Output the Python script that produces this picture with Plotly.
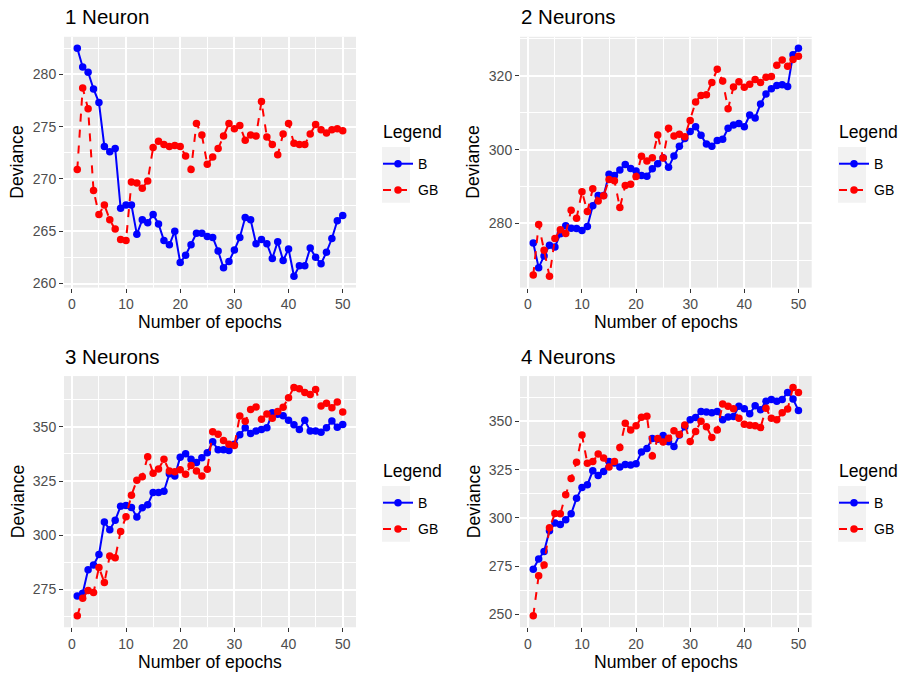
import plotly.graph_objects as go

# Deviance per epoch for the two training schemes (B and GB), one network size per panel
epochs = list(range(1, 51))

n1_b = [282.5, 280.7, 280.2, 278.6, 277.3, 273.1, 272.6, 272.9, 267.2, 267.5,
        267.5, 264.7, 266.1, 265.8, 266.6, 265.7, 264.1, 263.7, 265.0, 262.0,
        262.7, 263.7, 264.8, 264.8, 264.5, 264.4, 263.1, 261.5, 262.1, 263.2,
        264.4, 266.3, 266.1, 263.8, 264.2, 263.8, 262.4, 264.0, 262.2, 263.3,
        260.7, 261.7, 261.7, 263.4, 262.5, 261.9, 263.0, 264.3, 266.0, 266.5]
n1_gb = [270.9, 278.7, 276.7, 268.9, 266.6, 267.5, 266.1, 265.2, 264.2, 264.1,
         269.7, 269.6, 269.1, 269.8, 273.0, 273.6, 273.3, 273.1, 273.2, 273.1,
         272.2, 270.9, 275.3, 274.2, 271.4, 272.1, 272.9, 274.1, 275.3, 274.8,
         275.1, 273.7, 274.2, 274.1, 277.4, 274.0, 273.3, 272.3, 274.3, 275.3,
         273.4, 273.3, 273.3, 274.3, 275.2, 274.7, 274.4, 274.7, 274.8, 274.6]

n2_b = [274.7, 268.0, 271.2, 274.1, 273.6, 277.2, 279.4, 278.7, 278.6, 278.1,
        279.2, 284.8, 287.6, 287.6, 293.3, 293.0, 294.5, 296.0, 294.9, 294.2,
        293.0, 292.8, 294.8, 296.2, 297.8, 295.2, 298.3, 300.9, 303.0, 304.9,
        306.2, 303.9, 301.5, 300.9, 302.5, 302.8, 305.8, 306.7, 307.1, 306.2,
        309.4, 308.6, 312.4, 315.1, 316.5, 317.4, 317.6, 317.1, 325.7, 327.5]
n2_gb = [266.0, 279.7, 272.7, 265.7, 275.9, 278.3, 277.3, 283.6, 281.4, 288.6,
         283.2, 289.4, 286.1, 287.5, 291.9, 291.6, 284.3, 290.3, 290.6, 292.7,
         298.2, 296.9, 297.8, 304.0, 297.7, 305.8, 303.7, 304.2, 303.5, 307.9,
         312.9, 314.7, 314.9, 318.2, 321.8, 318.6, 311.1, 317.0, 318.4, 316.9,
         317.7, 319.0, 318.2, 319.6, 319.8, 322.9, 324.3, 322.6, 324.4, 325.3]

n3_b = [272.0, 273.3, 284.1, 286.3, 291.1, 306.1, 302.6, 306.9, 313.4, 313.7,
        312.8, 308.4, 312.7, 314.1, 319.7, 319.7, 320.3, 328.3, 327.3, 336.0,
        337.6, 335.0, 333.5, 335.7, 338.0, 343.1, 339.4, 339.4, 339.1, 342.0,
        346.3, 349.5, 346.9, 348.0, 348.7, 349.6, 356.4, 355.8, 355.1, 353.0,
        350.9, 348.7, 353.0, 348.1, 348.1, 347.5, 349.5, 352.7, 349.8, 351.0]
n3_gb = [262.9, 271.0, 274.6, 273.6, 285.2, 278.2, 290.5, 289.6, 301.8, 308.6,
         318.5, 325.4, 327.0, 336.2, 328.6, 330.5, 335.0, 329.6, 329.3, 330.2,
         328.1, 332.2, 329.6, 327.3, 330.4, 347.7, 346.6, 343.7, 342.0, 341.4,
         355.0, 352.5, 357.9, 359.1, 353.5, 355.9, 353.9, 357.0, 359.0, 363.4,
         368.1, 367.5, 365.8, 364.9, 367.2, 359.6, 360.8, 358.8, 361.4, 356.8]

n4_b = [273.4, 278.7, 282.5, 293.3, 297.3, 296.6, 299.0, 302.1, 310.1, 315.8,
        317.2, 324.4, 322.0, 324.0, 329.2, 328.5, 326.4, 327.6, 327.4, 328.1,
        334.1, 336.0, 341.2, 340.8, 342.7, 339.5, 337.0, 342.9, 347.2, 350.9,
        352.0, 355.2, 354.9, 354.5, 355.1, 350.9, 352.3, 352.5, 357.8, 356.6,
        354.0, 358.1, 356.1, 360.4, 361.4, 360.5, 361.4, 365.0, 361.6, 355.7]
n4_gb = [249.2, 270.0, 275.5, 294.9, 302.2, 302.1, 312.0, 320.4, 328.8, 342.9,
         328.3, 329.2, 333.1, 331.0, 326.4, 329.2, 336.5, 349.1, 345.5, 347.7,
         352.1, 352.7, 332.1, 341.2, 339.3, 341.3, 345.1, 343.2, 348.2, 339.6,
         344.8, 350.1, 347.2, 341.7, 345.5, 359.0, 357.8, 356.6, 351.6, 348.5,
         348.0, 347.7, 346.8, 356.8, 351.6, 350.9, 354.5, 356.4, 367.6, 365.0]

titles = ["1 Neuron", "2 Neurons", "3 Neurons", "4 Neurons"]
y_steps = [5, 20, 25, 25]

W, H = 901, 674
FONT = "Liberation Sans, Arial, Helvetica, sans-serif"


def fx(px):
    return px / W


def fy(px):
    return 1 - px / H


# panel rectangles in pixels: (left, right, top, bottom)
panels = [
    (64, 356, 37, 289.3),
    (520, 811.7, 37, 289.3),
    (64, 356, 378.3, 631),
    (520, 811.7, 378.3, 631),
]
# legend anchor: left of key column, top of key column (pixels)
legend_pos = [(382, 148), (838, 148), (382, 489), (838, 489)]

data = [(n1_b, n1_gb), (n2_b, n2_gb), (n3_b, n3_gb), (n4_b, n4_gb)]

fig = go.Figure()
layout = dict(
    width=W, height=H, margin=dict(l=0, r=0, t=0, b=0),
    paper_bgcolor="white", plot_bgcolor="#EBEBEB",
    font=dict(family=FONT, color="black"),
    shapes=[], annotations=[],
)

for i, ((b, gb), (l, r, t, btm), title, ystep, (lx, ly)) in enumerate(
        zip(data, panels, titles, y_steps, legend_pos)):
    k = "" if i == 0 else str(i + 1)
    leg = "legend" + k
    for name, vals, color, dash in [("B", b, "#0000FF", "solid"),
                                    ("GB", gb, "#FF0000", "8px,8px")]:
        fig.add_trace(go.Scatter(
            x=epochs, y=vals, name=name, mode="lines+markers",
            line=dict(color=color, width=2, dash=dash),
            marker=dict(color=color, size=7.5),
            xaxis="x" + k, yaxis="y" + k, legend=leg,
            legendgroup=f"{name}{k}",
        ))

    lo, hi = min(b + gb), max(b + gb)
    pad = 0.05 * (hi - lo)
    axis_common = dict(
        showgrid=True, gridcolor="white", gridwidth=1.6,
        zeroline=False, showline=False,
        ticks="outside", ticklen=4, tickwidth=1.1, tickcolor="#333333",
        tickfont=dict(size=14, color="#4D4D4D", family=FONT),
    )
    layout["xaxis" + k] = dict(
        axis_common, domain=[fx(l), fx(r)], anchor="y" + k,
        range=[-1.45, 52.45], tickmode="linear", tick0=0, dtick=10,
        minor=dict(tickmode="linear", tick0=0, dtick=5, showgrid=True,
                   gridcolor="white", gridwidth=0.8),
    )
    layout["yaxis" + k] = dict(
        axis_common, domain=[fy(btm), fy(t)], anchor="x" + k,
        range=[lo - pad, hi + pad], tickmode="linear", tick0=0, dtick=ystep,
        minor=dict(tickmode="linear", tick0=ystep / 2, dtick=ystep, showgrid=True,
                   gridcolor="white", gridwidth=0.8),
    )

    layout[leg] = dict(
        x=fx(lx - 4), y=fy(ly + 1), xanchor="left", yanchor="top",
        bgcolor="rgba(0,0,0,0)", borderwidth=0,
        font=dict(size=14, color="black", family=FONT),
        tracegroupgap=5, itemwidth=30,
    )
    # grey key backgrounds behind the legend symbols
    layout["shapes"].append(dict(
        type="rect", xref="paper", yref="paper", layer="below",
        x0=fx(lx), x1=fx(lx + 28), y0=fy(ly), y1=fy(ly + 56),
        fillcolor="#F2F2F2", line=dict(width=0),
    ))
    # legend title
    layout["annotations"].append(dict(
        text="Legend", xref="paper", yref="paper", x=fx(lx - 1), y=fy(ly - 15),
        xanchor="left", yanchor="middle", showarrow=False,
        font=dict(size=17.6, color="black", family=FONT),
    ))

    # panel title and axis titles
    layout["annotations"].append(dict(
        text=title, xref="paper", yref="paper", x=fx(l - 1), y=fy(t - 20),
        xanchor="left", yanchor="middle", showarrow=False,
        font=dict(size=20.5, color="black", family=FONT),
    ))
    layout["annotations"].append(dict(
        text="Number of epochs", xref="paper", yref="paper",
        x=fx((l + r) / 2), y=fy(btm + 35), xanchor="center", yanchor="middle",
        showarrow=False, font=dict(size=17.6, color="black", family=FONT),
    ))
    layout["annotations"].append(dict(
        text="Deviance", xref="paper", yref="paper",
        x=fx(l - 46.5), y=fy((t + btm) / 2), xanchor="center", yanchor="middle",
        textangle=-90, showarrow=False,
        font=dict(size=17.6, color="black", family=FONT),
    ))

fig.update_layout(**layout)
fig.write_html("out.html")
